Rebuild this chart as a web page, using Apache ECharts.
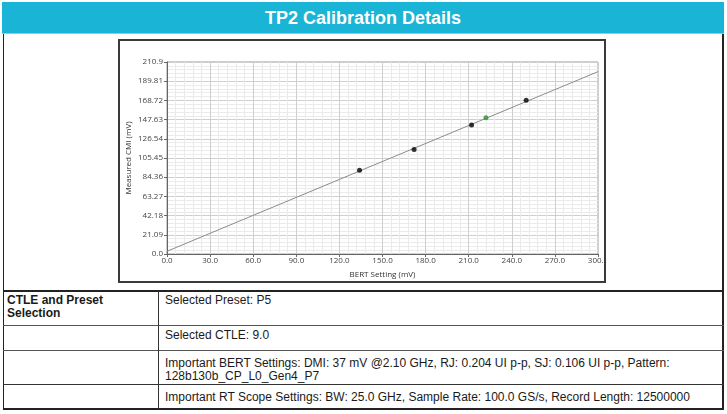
<!DOCTYPE html>
<html>
<head>
<meta charset="utf-8">
<script src="https://cdn.jsdelivr.net/npm/echarts@6/dist/echarts.min.js"></script>
<style>
  html, body { margin: 0; padding: 0; background: #fff; }
  body { width: 727px; height: 414px; position: relative; overflow: hidden; font-family: "Liberation Sans", Arial, sans-serif; }
  .abs { position: absolute; }
  .hl { position: absolute; background: #222; }
  .txt { position: absolute; font-size: 12px; line-height: 13px; color: #1a1a1a; white-space: nowrap; }
</style>
</head>
<body>
<div class="abs" id="hdr" style="left:2px;top:2px;width:722px;height:32px;background:#1ab4d6;border-bottom:1px solid #7fd3e8;box-sizing:border-box;color:#fff;font-family:'Liberation Sans Narrow','Liberation Sans',Arial,sans-serif;font-weight:bold;font-size:18px;line-height:32px;text-align:center;">TP2 Calibration Details</div>

<!-- table lines -->
<div class="hl" style="left:3px;top:34px;width:1px;height:375px;"></div>
<div class="hl" style="left:722px;top:34px;width:2px;height:375px;"></div>
<div class="hl" style="left:3px;top:290px;width:721px;height:2px;"></div>
<div class="hl" style="left:3px;top:325px;width:721px;height:1px;background:#555;"></div>
<div class="hl" style="left:3px;top:350px;width:721px;height:1px;background:#555;"></div>
<div class="hl" style="left:3px;top:384px;width:721px;height:1px;background:#333;"></div>
<div class="hl" style="left:3px;top:408px;width:721px;height:2px;"></div>
<div class="hl" style="left:158px;top:291px;width:1px;height:118px;background:#333;"></div>

<div id="cells"></div>

<!-- chart -->
<div class="abs" id="chart" style="left:118px;top:39px;width:488px;height:244px;"></div>
<div class="abs" style="left:118px;top:39px;width:488px;height:244px;border:2px solid #3a3a3a;box-sizing:border-box;pointer-events:none;"></div>

<script>
// ---- data ----
const bertSetting = [134, 172, 212, 250];
const measuredCmi = [92.0, 114.7, 141.6, 169.0];
const selectedBert = [222];
const selectedCmi = [149.6];
const fitBert = [0, 300];
const fitCmi = [3.0, 200.3];
const xTickLabels = ['0.0','30.0','60.0','90.0','120.0','150.0','180.0','210.0','240.0','270.0','300.0'];
const yTickLabels = ['0.0','21.09','42.18','63.27','84.36','105.45','126.54','147.63','168.72','189.81','210.9'];

const tableLeft = [
  {text: 'CTLE and Preset', x: 7, y: 294, bold: true},
  {text: 'Selection', x: 7, y: 307, bold: true}
];
const tableRight = [
  {text: 'Selected Preset: P5', y: 294},
  {text: 'Selected CTLE: 9.0', y: 329},
  {text: 'Important BERT Settings: DMI: 37 mV @2.10 GHz, RJ: 0.204 UI p-p, SJ: 0.106 UI p-p, Pattern:', y: 357},
  {text: '128b130b_CP_L0_Gen4_P7', y: 370},
  {text: 'Important RT Scope Settings: BW: 25.0 GHz, Sample Rate: 100.0 GS/s, Record Length: 12500000', y: 391}
];

const cells = document.getElementById('cells');
tableLeft.forEach(c => {
  const d = document.createElement('div');
  d.className = 'txt';
  d.style.left = c.x + 'px'; d.style.top = c.y + 'px';
  if (c.bold) d.style.fontWeight = 'bold';
  d.textContent = c.text;
  cells.appendChild(d);
});
tableRight.forEach(c => {
  const d = document.createElement('div');
  d.className = 'txt';
  d.style.left = '165px'; d.style.top = c.y + 'px';
  d.textContent = c.text;
  cells.appendChild(d);
});

const chart = echarts.init(document.getElementById('chart'));
const font = '"Open Sans", "Noto Sans", sans-serif';
chart.setOption({
  animation: false,
  grid: { left: 49, right: 8, top: 23, bottom: 29, containLabel: false, outerBoundsMode: 'none',
    show: true, borderColor: '#9a9a9a', borderWidth: 1, backgroundColor: '#fff' },
  xAxis: {
    type: 'value', min: 0, max: 300, interval: 30,
    name: 'BERT Setting (mV)', nameLocation: 'middle', nameGap: 17, nameMoveOverlap: false,
    nameTextStyle: { fontSize: 8, color: '#333', fontFamily: font },
    axisLine: { show: true, lineStyle: { color: '#666', width: 1 } },
    axisTick: { show: true, length: 3, lineStyle: { color: '#666' } },
    axisLabel: { fontSize: 8, color: '#444', fontFamily: font, margin: 3,
      formatter: v => xTickLabels[Math.round(v / 30)] },
    splitLine: { show: true, lineStyle: { color: '#cfcfcf', width: 1 } },
    minorTick: { show: false, splitNumber: 5 },
    minorSplitLine: { show: true, lineStyle: { color: '#ebebeb', width: 1 } }
  },
  yAxis: {
    type: 'value', min: 0, max: 210.9, interval: 21.09,
    name: 'Measured CMI (mV)', nameLocation: 'middle', nameGap: 34, nameMoveOverlap: false,
    nameTextStyle: { fontSize: 8, color: '#333', fontFamily: font },
    axisLine: { show: true, lineStyle: { color: '#666', width: 1 } },
    axisTick: { show: true, length: 3, lineStyle: { color: '#666' } },
    axisLabel: { fontSize: 8, color: '#444', fontFamily: font, margin: 4,
      formatter: v => yTickLabels[Math.round(v / 21.09)] },
    splitLine: { show: true, lineStyle: { color: '#cfcfcf', width: 1 } },
    minorTick: { show: false, splitNumber: 5 },
    minorSplitLine: { show: true, lineStyle: { color: '#ebebeb', width: 1 } }
  },
  series: [
    { type: 'line', data: fitBert.map((x, i) => [x, fitCmi[i]]), showSymbol: false,
      lineStyle: { color: '#8c8c8c', width: 1 }, z: 2, silent: true },
    { type: 'scatter', data: bertSetting.map((x, i) => [x, measuredCmi[i]]), symbolSize: 5,
      itemStyle: { color: '#000' }, z: 3 },
    { type: 'scatter', data: selectedBert.map((x, i) => [x, selectedCmi[i]]), symbolSize: 5,
      itemStyle: { color: '#2f8f2f' }, z: 4 }
  ]
});
</script>
</body>
</html>
